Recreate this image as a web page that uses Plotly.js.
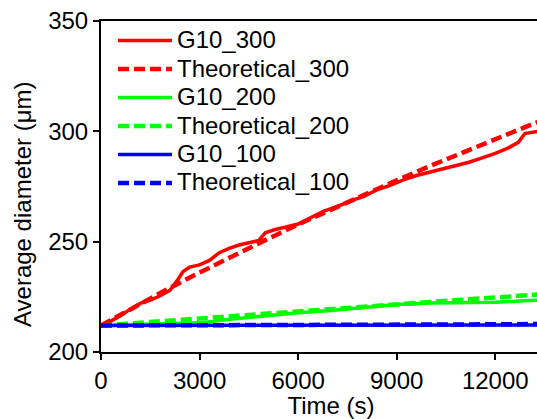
<!DOCTYPE html>
<html>
<head>
<meta charset="utf-8">
<script src="https://cdn.plot.ly/plotly-3.0.1.min.js"></script>
<style>
  html, body { margin: 0; padding: 0; overflow: hidden; background: #fff; }
  #chart { width: 561px; height: 419px; }
</style>
</head>
<body>
<div id="chart"></div>
<script>
// Grain growth at three temperatures: measured (G10) vs theoretical average diameter
const timeG300 = [0, 300, 600, 900, 1200, 1500, 1800, 2100, 2300, 2500, 2700, 3000, 3300, 3600, 3900, 4200, 4500, 4800, 5000, 5300, 5600, 6000, 6400, 6800, 7200, 7600, 8000, 8400, 8800, 9200, 9600, 10000, 10400, 10800, 11200, 11600, 12000, 12400, 12700, 12900, 13100, 13300];
const diamG300 = [212, 214, 216.5, 219.5, 222, 223.5, 225.5, 228, 232, 236.5, 238.5, 239.5, 241.5, 245, 247, 248.5, 249.5, 250.5, 254, 255.5, 256.5, 258, 261, 264, 266, 268.5, 270.5, 273.5, 275.5, 278, 280, 281.5, 283, 284.5, 286, 288, 290, 292.5, 295, 299, 299.5, 300];

const timeTheo = [0, 1000, 2000, 3000, 4000, 5000, 6000, 7000, 8000, 9000, 10000, 11000, 12000, 13000, 14000];
const diamTheo300 = [212.0, 220.3, 228.3, 236.0, 243.5, 250.7, 257.8, 264.6, 271.3, 277.8, 284.2, 290.4, 296.5, 302.5, 308.4];
const diamTheo200 = [212.0, 213.1, 214.2, 215.2, 216.3, 217.4, 218.5, 219.5, 220.6, 221.6, 222.6, 223.7, 224.7, 225.7, 226.8];
const diamTheo100 = [212.0, 212.0, 212.1, 212.1, 212.2, 212.2, 212.3, 212.3, 212.4, 212.4, 212.5, 212.5, 212.6, 212.6, 212.7];

const timeG200 = [0, 1000, 2000, 3000, 4000, 5000, 6000, 7000, 8000, 9000, 10000, 11000, 12000, 13000, 14000];
const diamG200 = [212, 212.3, 212.6, 213.2, 215, 216.5, 217.8, 218.8, 220, 221.5, 222.2, 222.3, 222.5, 223.3, 224.0];

const timeG100 = [0, 2000, 4000, 6000, 8000, 10000, 12000, 14000];
const diamG100 = [212, 212, 212.1, 212.1, 212.2, 212.2, 212.3, 212.3];

const seriesNames = ['G10_300', 'Theoretical_300', 'G10_200', 'Theoretical_200', 'G10_100', 'Theoretical_100'];
const xTicks = [0, 3000, 6000, 9000, 12000];
const yTicks = [200, 250, 300, 350];

const RED = '#ff0000', GREEN = '#00ff00', BLUE = '#0000ff';
const DASH = '11px,5px';

const series = [
  { x: timeG300, y: diamG300, color: RED, dash: 'solid', width: 3.5 },
  { x: timeTheo, y: diamTheo300, color: RED, dash: DASH, width: 4.5 },
  { x: timeG200, y: diamG200, color: GREEN, dash: 'solid', width: 3.5 },
  { x: timeTheo, y: diamTheo200, color: GREEN, dash: DASH, width: 4.5 },
  { x: timeG100, y: diamG100, color: BLUE, dash: 'solid', width: 3.5 },
  { x: timeTheo, y: diamTheo100, color: BLUE, dash: DASH, width: 4.5 }
];

const traces = series.map((s, i) => ({
  type: 'scatter', mode: 'lines', name: seriesNames[i],
  x: s.x, y: s.y,
  line: { color: s.color, dash: s.dash, width: s.width },
  showlegend: false
}));

// Plot-area geometry (pixels) used to place the hand-built legend
const W = 561, H = 419, ML = 101, MT = 21, MB = 67, MR = 0;
const PW = W - ML - MR, PH = H - MT - MB;
const px2x = p => (p - ML) / PW;
const px2y = p => (H - MB - p) / PH;

const FONT = 'Liberation Sans, Arial, sans-serif';
const shapes = [], annotations = [];
series.forEach((s, i) => {
  const yc = 40.5 + 28.5 * i;
  shapes.push({
    type: 'line', xref: 'paper', yref: 'paper',
    x0: px2x(118), x1: px2x(172), y0: px2y(yc), y1: px2y(yc),
    line: { color: s.color, dash: s.dash, width: s.width }
  });
  annotations.push({
    xref: 'paper', yref: 'paper', x: px2x(175), y: px2y(yc - 1),
    xanchor: 'left', yanchor: 'middle', showarrow: false,
    text: seriesNames[i], font: { family: FONT, size: 24, color: '#000' }
  });
});

// y-axis title
annotations.push({
  xref: 'paper', yref: 'paper', x: px2x(22), y: px2y(205),
  xanchor: 'center', yanchor: 'middle', showarrow: false, textangle: -90,
  text: 'Average diameter (μm)', font: { family: FONT, size: 24, color: '#000' }
});

const layout = {
  width: W, height: H,
  margin: { l: ML, r: MR, t: MT, b: MB, pad: 0 },
  paper_bgcolor: '#fff', plot_bgcolor: '#fff',
  font: { family: FONT, size: 24, color: '#000' },
  xaxis: {
    range: [0, 14000], tickvals: xTicks, ticktext: xTicks.map(String),
    showgrid: false, zeroline: false,
    showline: true, linecolor: '#000', linewidth: 2, mirror: true,
    ticks: 'outside', ticklen: 6, tickwidth: 2, tickcolor: '#000',
    tickfont: { family: FONT, size: 24 },
    title: { text: 'Time (s)', font: { family: FONT, size: 24 }, standoff: 4 }
  },
  yaxis: {
    range: [200, 350], tickvals: yTicks, ticktext: yTicks.map(String),
    showgrid: false, zeroline: false,
    showline: true, linecolor: '#000', linewidth: 2,
    ticks: 'outside', ticklen: 6, tickwidth: 2, tickcolor: '#000',
    tickfont: { family: FONT, size: 24 }
  },
  shapes: shapes,
  annotations: annotations
};

Plotly.newPlot('chart', traces, layout, { displayModeBar: false, staticPlot: true });
</script>
</body>
</html>
